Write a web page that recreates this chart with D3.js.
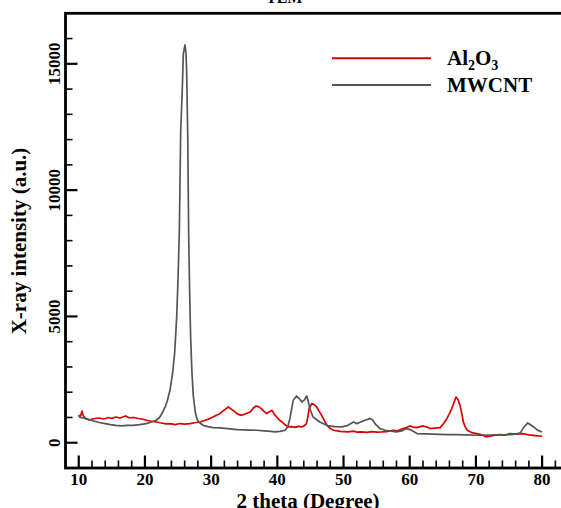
<!DOCTYPE html>
<html>
<head>
<meta charset="utf-8">
<script src="https://cdn.jsdelivr.net/npm/d3@7"></script>
<style>
  html, body { margin: 0; padding: 0; background: #fff; }
  #chart { width: 561px; height: 508px; overflow: hidden; }
  text { font-family: "Liberation Serif", "Times New Roman", serif; font-weight: bold; }
</style>
</head>
<body>
<div id="chart"></div>
<script>
// Al2O3 pattern (2theta, intensity)
const AL2O3_X = [10.0,10.2,10.5,10.7,11.1,11.6,12.2,13.1,13.8,14.5,15.0,15.6,16.2,17.1,17.6,18.3,19.0,19.7,20.4,21.0,
  21.7,22.5,23.2,23.8,24.6,25.3,26.0,26.8,27.5,28.3,29.0,29.8,30.5,31.3,32.0,32.6,33.1,33.6,34.1,34.6,
  35.2,35.9,36.4,36.8,37.2,37.6,38.0,38.4,38.8,39.2,39.6,39.9,40.3,40.7,41.2,41.7,42.2,42.7,43.2,43.7,
  44.1,44.4,44.6,44.8,45.2,45.6,45.95,46.3,46.7,47.1,47.5,48.0,48.5,49.5,50.7,51.5,52.0,52.75,53.5,54.3,
  55.0,55.8,56.5,57.5,58.2,59.0,59.5,60.05,60.5,61.06,61.6,62.05,62.6,63.07,63.8,64.6,65.1,65.6,66.0,66.35,
  66.7,67.0,67.3,67.6,67.9,68.1,68.4,68.7,69.4,70.1,70.8,71.6,72.5,73.6,74.4,75.15,76.0,77.0,78.0,79.0,80.0];
const AL2O3_Y = [1100,1000,1250,1050,950,900,950,980,940,1000,960,1020,980,1060,990,1000,960,930,880,850,
  820,780,750,757,720,760,740,757,790,822,880,955,1050,1150,1300,1415,1320,1217,1120,1086,
  1150,1217,1380,1455,1420,1350,1240,1150,1230,1284,1100,1020,900,822,700,625,640,610,650,625,
  680,757,1000,1350,1548,1500,1415,1250,1086,880,690,560,494,450,428,460,420,428,410,440,
  420,428,440,494,470,560,600,665,620,600,640,665,620,560,580,600,750,955,1150,1350,
  1600,1810,1700,1480,1100,822,620,494,400,363,320,230,280,323,300,363,340,363,310,280,257];

// MWCNT pattern
const MWCNT_X = [10.0,10.3,10.6,11.1,12.0,13.1,14.0,14.8,15.6,16.5,17.3,18.2,19.2,20.2,21.0,21.7,22.2,22.7,23.1,23.4,
  23.8,24.2,24.5,24.8,25.0,25.2,25.4,25.65,25.8,26.06,26.2,26.3,26.46,26.6,26.75,26.9,27.1,27.3,27.6,27.85,
  28.1,28.8,29.5,30.3,31.3,32.5,33.9,35.0,36.0,36.9,38.0,39.0,39.65,40.4,41.2,41.6,41.9,42.2,42.4,42.9,
  43.3,43.7,44.1,44.45,44.7,44.9,45.4,46.4,47.7,48.7,49.7,50.6,51.5,52.0,52.6,53.25,54.0,54.4,54.75,55.5,
  56.3,57.2,58.0,58.8,59.5,60.05,61.1,62.5,63.5,65.6,67.0,68.5,70.6,72.0,73.5,75.15,76.0,76.7,77.2,77.8,
  78.2,78.7,79.3,80.0];
const MWCNT_Y = [1060,1000,980,955,880,800,760,720,690,670,690,690,720,757,820,890,1000,1217,1450,1680,
  2100,2800,3600,5000,6500,8400,12300,14050,15400,15750,15400,14700,12300,8400,6000,4200,2800,1875,1217,950,
  822,690,640,600,586,560,520,510,500,494,470,450,428,450,494,650,955,1400,1680,1850,
  1750,1613,1700,1850,1600,1350,1020,822,665,640,625,680,822,757,820,890,955,900,757,560,
  494,460,428,470,560,520,363,350,340,323,320,310,297,300,310,323,340,389,600,784,
  720,625,500,428];

const X_MAJOR = [10, 20, 30, 40, 50, 60, 70, 80];
const Y_MAJOR = [0, 5000, 10000, 15000];

const SERIES = [
  { name: "Al2O3", xs: AL2O3_X, ys: AL2O3_Y, color: "#dd0000" },
  { name: "MWCNT", xs: MWCNT_X, ys: MWCNT_Y, color: "#555555" },
];

const W = 561, H = 508;
const margin = { top: 13.3, left: 65.5, bottom: 40 };
const plotR = 568.6;      // right frame edge is cropped off in the reference
const plotB = H - margin.bottom;

const svg = d3.select("#chart").append("svg")
  .attr("width", W).attr("height", H);

const x = d3.scaleLinear().domain([8, 84]).range([margin.left, plotR]);
const y = d3.scaleLinear().domain([-1000, 17000]).range([plotB, margin.top]);

// Data lines
const line = d3.line().x((d) => x(d[0])).y((d) => y(d[1]));
SERIES.forEach((s) => {
  svg.append("path")
    .datum(s.xs.map((v, i) => [v, s.ys[i]]))
    .attr("fill", "none")
    .attr("stroke", s.color)
    .attr("stroke-width", 1.7)
    .attr("stroke-linejoin", "round")
    .attr("d", line);
});

// Ticks, pointing inward
const xMinor = d3.range(12, 84, 2).filter((v) => v % 10 !== 0);
svg.selectAll(".xminor").data(xMinor).join("line")
  .attr("x1", (d) => x(d)).attr("x2", (d) => x(d))
  .attr("y1", plotB).attr("y2", plotB - 7.5)
  .attr("stroke", "#000").attr("stroke-width", 1.6);
svg.selectAll(".xmajor").data(X_MAJOR).join("line")
  .attr("x1", (d) => x(d)).attr("x2", (d) => x(d))
  .attr("y1", plotB).attr("y2", plotB - 12.5)
  .attr("stroke", "#000").attr("stroke-width", 2.2);

const yMinor = d3.range(1000, 17000, 1000).filter((v) => v % 5000 !== 0);
svg.selectAll(".yminor").data(yMinor).join("line")
  .attr("x1", margin.left).attr("x2", margin.left + 7)
  .attr("y1", (d) => y(d)).attr("y2", (d) => y(d))
  .attr("stroke", "#000").attr("stroke-width", 1.6);
svg.selectAll(".ymajor").data(Y_MAJOR).join("line")
  .attr("x1", margin.left).attr("x2", margin.left + 12)
  .attr("y1", (d) => y(d)).attr("y2", (d) => y(d))
  .attr("stroke", "#000").attr("stroke-width", 2.2);

// Frame
svg.append("rect")
  .attr("x", margin.left).attr("y", margin.top)
  .attr("width", plotR - margin.left).attr("height", plotB - margin.top)
  .attr("fill", "none").attr("stroke", "#000").attr("stroke-width", 2.8);

// Tick labels
svg.selectAll(".xlabel").data(X_MAJOR).join("text")
  .attr("x", (d) => x(d)).attr("y", 485)
  .attr("text-anchor", "middle").attr("font-size", "17px")
  .text((d) => d);
svg.selectAll(".ylabel").data(Y_MAJOR).join("text")
  .attr("transform", (d) => `translate(60,${y(d)}) rotate(-90)`)
  .attr("text-anchor", "middle").attr("font-size", "17px")
  .text((d) => d);

// Axis titles
svg.append("text").attr("x", 308).attr("y", 508)
  .attr("text-anchor", "middle").attr("font-size", "21px")
  .text("2 theta (Degree)");
svg.append("text").attr("transform", "translate(26,241) rotate(-90)")
  .attr("text-anchor", "middle").attr("font-size", "21px")
  .text("X-ray intensity (a.u.)");

// Cropped title at the very top
svg.append("text").attr("x", 266).attr("y", 3)
  .attr("font-size", "16px").text("TEM");

// Legend
const lg = svg.append("g");
lg.append("line").attr("x1", 332).attr("x2", 431).attr("y1", 58.3).attr("y2", 58.3)
  .attr("stroke", SERIES[0].color).attr("stroke-width", 2);
lg.append("line").attr("x1", 332).attr("x2", 431).attr("y1", 85).attr("y2", 85)
  .attr("stroke", SERIES[1].color).attr("stroke-width", 2.2);
const t1 = lg.append("text").attr("x", 447).attr("y", 64.5).attr("font-size", "21px");
t1.append("tspan").text("Al");
t1.append("tspan").attr("font-size", "14px").attr("dy", 5).text("2");
t1.append("tspan").attr("dy", -5).text("O");
t1.append("tspan").attr("font-size", "14px").attr("dy", 5).text("3");
lg.append("text").attr("x", 447).attr("y", 91.7).attr("font-size", "21px").text("MWCNT");
</script>
</body>
</html>
